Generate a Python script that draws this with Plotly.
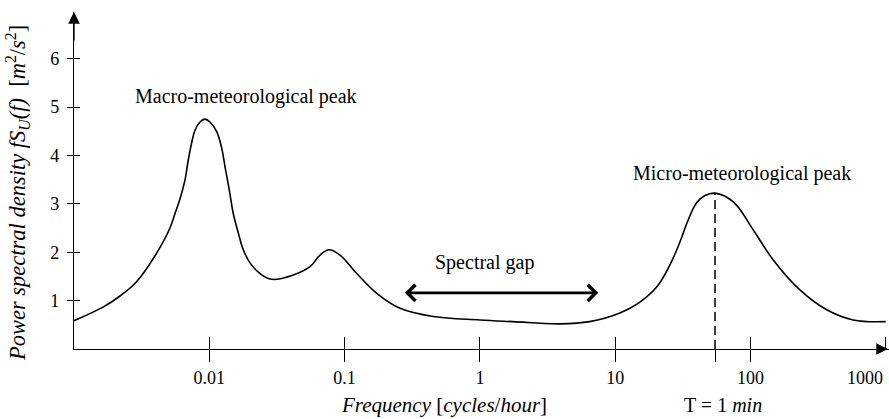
import numpy as np
import plotly.graph_objects as go

# Spectrum
freq = [0.001, 0.00165, 0.00220, 0.0029, 0.00408, 0.00512, 0.00558, 0.00607, 0.00661, 0.00699,
        0.00741, 0.00784, 0.00854, 0.00929, 0.01012, 0.01134, 0.01235, 0.01306, 0.01405,
        0.01504, 0.01638, 0.01783, 0.0200, 0.0237, 0.0289, 0.0418, 0.0555,
        0.0658, 0.0767, 0.0925, 0.123, 0.173, 0.257, 0.453, 1.0, 1.75, 3.88, 6.47,
        10.85, 15.25, 20.26, 25.4, 30.1, 34.7, 40.0, 46.1, 54.7, 74.6, 104.9, 147.4,
        232, 366, 575, 998]
psd = [0.585, 0.87, 1.10, 1.39, 1.98, 2.50, 2.80, 3.10, 3.49, 3.90,
       4.26, 4.52, 4.69, 4.75, 4.69, 4.49, 4.15, 3.77, 3.29,
       2.80, 2.40, 2.05, 1.78, 1.56, 1.44, 1.53, 1.70,
       1.94, 2.05, 1.94, 1.56, 1.15, 0.84, 0.67, 0.60, 0.565, 0.52, 0.565,
       0.744, 0.97, 1.28, 1.74, 2.21, 2.67, 3.02, 3.17, 3.22, 3.04, 2.46, 1.84,
       1.22, 0.81, 0.60, 0.565]

xtick_vals = [0.01, 0.1, 1, 10, 100, 1000]
xtick_text = ["0.01", "0.1", "1", "10", "100", "1000"]
ytick_vals = [1, 2, 3, 4, 5, 6]
ytick_text = ["1", "2", "3", "4", "5", "6"]

t_min_freq = 54.7          # T = 1 min marker
gap_from, gap_to, gap_level = 0.272, 7.5, 1.16

macro_label = ("Macro-meteorological peak", 0.0187, 5.21)
micro_label = ("Micro-meteorological peak", 86.3, 3.62)
gap_label = ("Spectral gap", 1.08, 1.78)

x_range = [-3, 3.024]
y_range = [0, 6.963]

peak_micro = max(p for f, p in zip(freq, psd) if f > 10)

FONT = "Liberation Serif"
PLOT_W, PLOT_H, L, T = 815, 337, 74, 12


def px_x(p):
    return (p - L) / PLOT_W


def px_y(p):
    return (T + PLOT_H - p) / PLOT_H


fig = go.Figure()
fig.add_trace(go.Scatter(
    x=freq, y=psd, mode="lines",
    line=dict(color="black", width=1.6, shape="spline", smoothing=1.1),
    hoverinfo="skip", showlegend=False))
fig.add_trace(go.Scatter(
    x=[t_min_freq, t_min_freq], y=[0, peak_micro], mode="lines",
    line=dict(color="black", width=1.5, dash="9px,5px"),
    hoverinfo="skip", showlegend=False))

fig.update_layout(
    width=889, height=419,
    margin=dict(l=L, r=0, t=T, b=70, autoexpand=False),
    plot_bgcolor="white", paper_bgcolor="white",
    font=dict(family=FONT, size=18, color="black"),
    showlegend=False,
)
# last tick label is drawn as an annotation, shifted left to stay on the page
shown_text = xtick_text[:-1] + [""]
fig.update_xaxes(
    type="log", range=x_range, showline=True, linecolor="black", linewidth=1.3,
    showgrid=False, zeroline=False,
    tickmode="array", tickvals=xtick_vals + [t_min_freq], ticktext=shown_text + [""],
    ticks="outside", ticklen=12, tickwidth=1.3, tickcolor="black",
    minor=dict(tickmode="array", tickvals=xtick_vals, ticks="inside", ticklen=12,
               tickwidth=1.3, tickcolor="black", showgrid=False),
    tickfont=dict(family=FONT, size=18, color="black"),
)
fig.update_yaxes(
    range=y_range, showline=True, linecolor="black", linewidth=1.3,
    showgrid=False, zeroline=False,
    tickmode="array", tickvals=ytick_vals, ticktext=ytick_text,
    ticks="outside", ticklen=6, tickwidth=1.3, tickcolor="black",
    ticklabelstandoff=4,
    minor=dict(tickmode="array", tickvals=ytick_vals, ticks="inside", ticklen=6,
               tickwidth=1.3, tickcolor="black", showgrid=False),
    tickfont=dict(family=FONT, size=18, color="black"),
)

ann = []
for txt, fx, fy in [macro_label, micro_label, gap_label]:
    ann.append(dict(text=txt, x=np.log10(fx), y=fy, xref="x", yref="y",
                    showarrow=False, xanchor="center", yanchor="middle",
                    font=dict(family=FONT, size=20, color="black")))
ann.append(dict(text=xtick_text[-1], x=px_x(885), y=px_y(377.5), xref="paper", yref="paper",
                showarrow=False, xanchor="right", yanchor="middle",
                font=dict(family=FONT, size=18, color="black")))
# spectral gap double arrow
ann.append(dict(text="", x=np.log10(gap_to), y=gap_level, ax=np.log10(gap_from), ay=gap_level,
                xref="x", yref="y", axref="x", ayref="y", showarrow=True,
                arrowhead=4, startarrowhead=4, arrowside="end+start",
                arrowsize=1.2, startarrowsize=1.2, arrowwidth=2.6, arrowcolor="black"))
# y axis arrow
ann.append(dict(text="", x=0, y=1, xref="paper", yref="paper", ax=0, ay=30,
                axref="pixel", ayref="pixel", showarrow=True, arrowhead=2,
                arrowsize=1.8, arrowwidth=1.3, arrowcolor="black"))
# x axis arrow (mostly clipped at right edge)
ann.append(dict(text="", x=1.047, y=0, xref="paper", yref="paper", ax=-50, ay=0,
                axref="pixel", ayref="pixel", showarrow=True, arrowhead=2,
                arrowsize=1.8, arrowwidth=1.3, arrowcolor="black"))
# axis titles
ann.append(dict(text="<i>Power spectral density fS<sub>U</sub>(f)</i>  [<i>m</i><sup>2</sup>/<i>s</i><sup>2</sup>]",
                x=px_x(17), y=px_y(193), xref="paper", yref="paper",
                textangle=-90, showarrow=False, xanchor="center", yanchor="middle",
                font=dict(family=FONT, size=22.5, color="black")))
ann.append(dict(text="<i>Frequency</i> [<i>cycles</i>/<i>hour</i>]",
                x=px_x(444), y=px_y(405), xref="paper", yref="paper",
                showarrow=False, xanchor="center", yanchor="middle",
                font=dict(family=FONT, size=21, color="black")))
ann.append(dict(text="T = 1 <i>min</i>",
                x=px_x(723), y=px_y(405), xref="paper", yref="paper",
                showarrow=False, xanchor="center", yanchor="middle",
                font=dict(family=FONT, size=20, color="black")))
fig.update_layout(annotations=ann)

fig.write_html("out.html")
